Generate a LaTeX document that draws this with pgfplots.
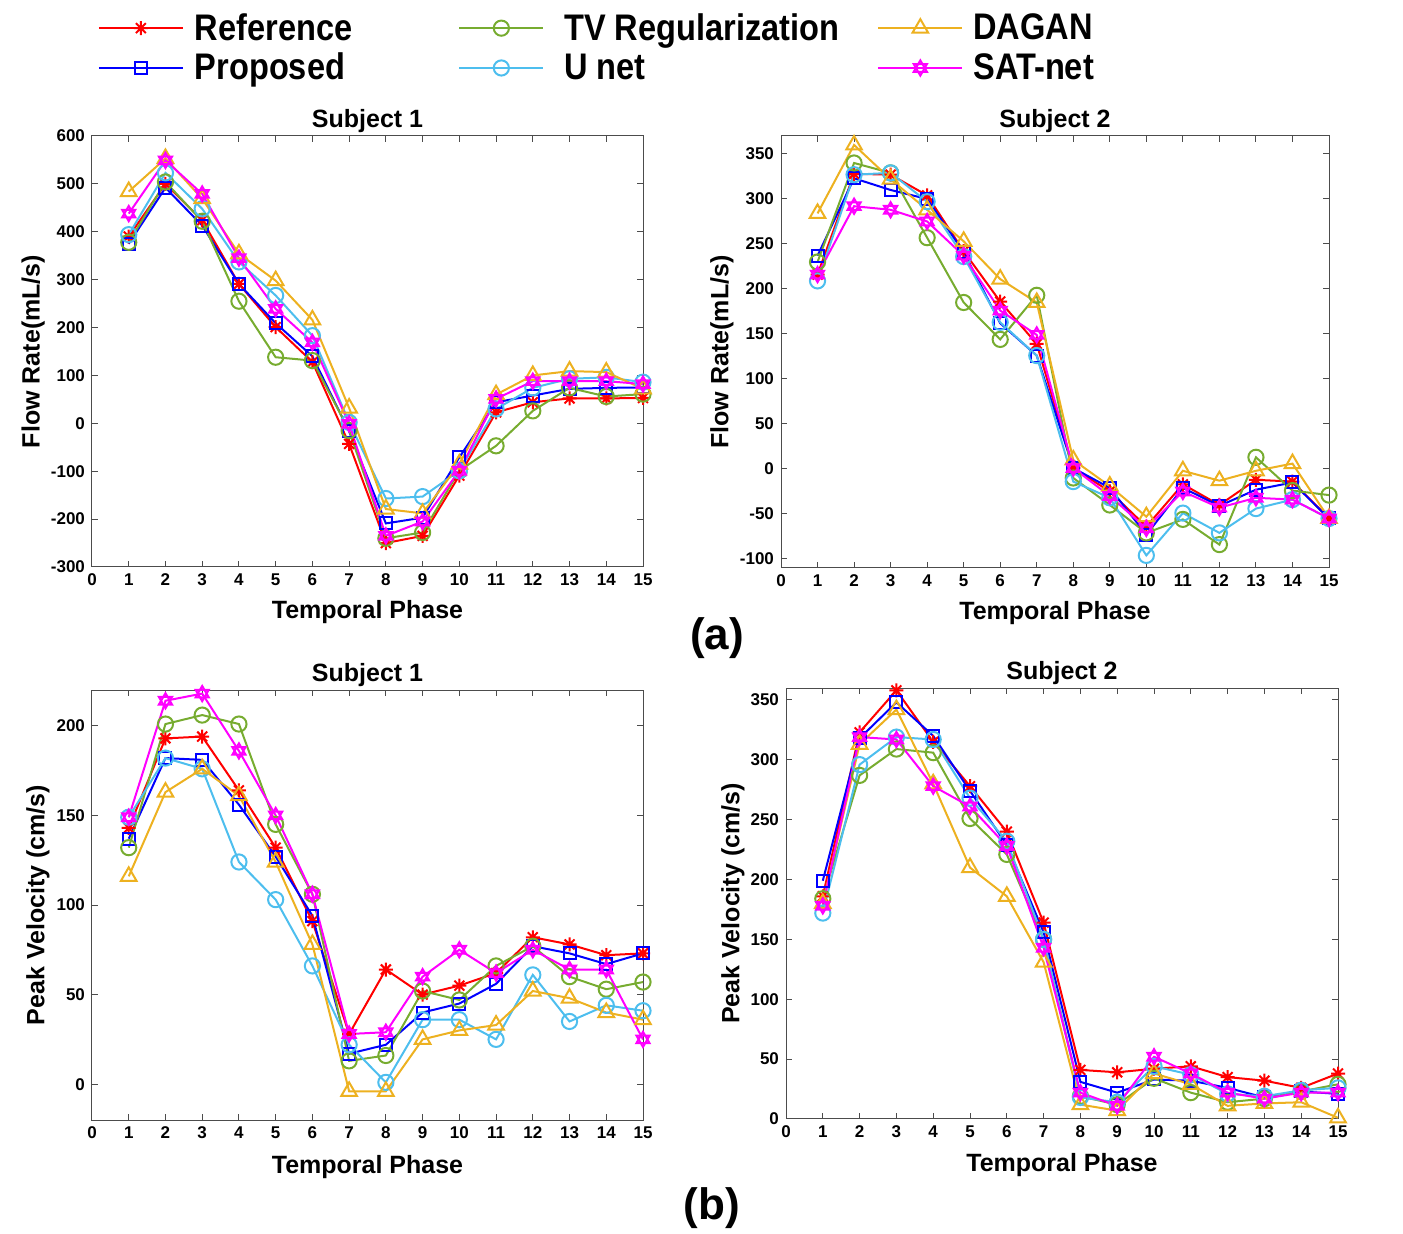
\documentclass[border=0pt]{standalone}
\usepackage{fontspec}
\setmainfont{Liberation Sans}
\newfontfamily\legfont[FakeStretch=0.88]{Liberation Sans}
\usepackage{pgfplots}
\usepackage{pgfplotstable}
\pgfplotsset{compat=1.18}

\definecolor{mred}{rgb}{1,0,0}
\definecolor{mblue}{rgb}{0,0,1}
\definecolor{mgreen}{rgb}{0.466,0.674,0.188}
\definecolor{mcyan}{rgb}{0.301,0.745,0.933}
\definecolor{morange}{rgb}{0.929,0.694,0.125}
\definecolor{mmag}{rgb}{1,0,1}
\definecolor{axgray}{rgb}{0.3,0.3,0.3}

\pgfdeclareplotmark{star8}{%
  \pgfpathmoveto{\pgfqpoint{0pt}{\pgfplotmarksize}}\pgfpathlineto{\pgfqpoint{0pt}{-\pgfplotmarksize}}%
  \pgfpathmoveto{\pgfqpoint{\pgfplotmarksize}{0pt}}\pgfpathlineto{\pgfqpoint{-\pgfplotmarksize}{0pt}}%
  \pgfpathmoveto{\pgfqpointpolar{45}{\pgfplotmarksize}}\pgfpathlineto{\pgfqpointpolar{225}{\pgfplotmarksize}}%
  \pgfpathmoveto{\pgfqpointpolar{135}{\pgfplotmarksize}}\pgfpathlineto{\pgfqpointpolar{315}{\pgfplotmarksize}}%
  \pgfusepathqstroke}
\pgfdeclareplotmark{hexagram}{%
  \pgfpathmoveto{\pgfqpointpolar{90}{\pgfplotmarksize}}%
  \pgfpathlineto{\pgfqpointpolar{210}{\pgfplotmarksize}}%
  \pgfpathlineto{\pgfqpointpolar{330}{\pgfplotmarksize}}%
  \pgfpathclose
  \pgfpathmoveto{\pgfqpointpolar{270}{\pgfplotmarksize}}%
  \pgfpathlineto{\pgfqpointpolar{30}{\pgfplotmarksize}}%
  \pgfpathlineto{\pgfqpointpolar{150}{\pgfplotmarksize}}%
  \pgfpathclose
  \pgfusepathqstroke}

\pgfplotstableread{
x ref prop tv unet dagan sat
1 390 375 378 394 484 438
2 500 492 504 523 553 549
3 424 413 422 448 469 479
4 291 291 255 337 354 345
5 201 209 138 267 298 239
6 128 140 131 183 216 169
7 -43 -17 -15 2 32 -1
8 -250 -209 -240 -157 -179 -235
9 -235 -197 -228 -153 -188 -205
10 -109 -71 -99 -99 -85 -99
11 23 44 -47 30 60 51
12 44 58 26 74 100 88
13 52 72 74 93 109 88
14 52 74 56 96 107 88
15 53 75 61 86 72 82
}\flowA

\pgfplotstableread{
x ref prop tv unet dagan sat
1 216 237 230 209 284 216
2 328 323 340 327 360 292
3 327 310 329 329 322 288
4 304 300 257 297 288 275
5 242 241 185 236 253 237
6 186 162 144 163 211 176
7 139 126 193 126 185 149
8 1 1 -10 -14 10 1
9 -25 -21 -40 -32 -19 -30
10 -64 -73 -71 -96 -53 -66
11 -17 -21 -56 -49 -2 -25
12 -40 -41 -84 -71 -13 -43
13 -12 -23 13 -44 -2 -32
14 -14 -15 -24 -34 6 -34
15 -55 -55 -29 -55 -55 -55
}\flowB

\pgfplotstableread{
x ref prop tv unet dagan sat
1 143 137 132 149 116 149
2 193 182 201 182 163 214
3 194 181 206 176 176 218
4 164 156 201 124 161 186
5 132 127 145 103 124 150
6 91 94 106 66 78 106
7 28 17 13 22 -4 28
8 64 22 16 1 -4 29
9 50 40 52 36 25 60
10 55 45 47 36 30 75
11 62 56 66 25 33 62
12 82 77 77 61 52 75
13 78 73 60 35 48 64
14 72 67 53 44 40 64
15 73 73 57 41 36 25
}\velA

\pgfplotstableread{
x ref prop tv unet dagan sat
1 186 199 184 172 180 178
2 323 318 287 296 313 319
3 358 348 309 319 342 317
4 315 320 306 317 280 278
5 278 274 251 268 210 261
6 240 229 221 232 186 228
7 164 156 150 150 131 143
8 41 31 19 18 12 22
9 39 22 12 14 7 11
10 42 33 34 44 38 52
11 44 32 22 37 29 38
12 35 26 14 21 11 22
13 32 18 17 19 13 17
14 26 23 23 24 14 22
15 38 21 29 26 1 22
}\velB

\pgfplotsset{
  refst/.style={color=mred, line width=1pt, mark=star8, mark size=3.5pt},
  propst/.style={color=mblue, line width=1pt, mark=square, mark size=3pt},
  tvst/.style={color=mgreen, line width=1pt, mark=o, mark size=3.8pt},
  unetst/.style={color=mcyan, line width=1pt, mark=o, mark size=3.8pt},
  daganst/.style={color=morange, line width=1pt, mark=triangle, mark size=4.5pt},
  satst/.style={color=mmag, line width=1pt, mark=hexagram, mark size=3.8pt},
  myaxis/.style={
    scale only axis,
    anchor=north west,
    xmin=0, xmax=15, xtick={0,...,15},
    /pgf/number format/assume math mode=true,
    tick label style={font=\bfseries\fontsize{8.5}{10}\selectfont},
    label style={font=\bfseries\fontsize{12.5}{15}\selectfont},
    title style={font=\bfseries\fontsize{12.5}{15}\selectfont, at={(axis description cs:0.5,1)}, anchor=center, yshift=1.5pt},
    axis line style={axgray, line width=0.5pt},
    tick style={axgray, line width=0.5pt},
    major tick length=3pt,
    xlabel={Temporal Phase},
    every mark/.append style={solid},
  },
}

\begin{document}
\begin{tikzpicture}
\useasboundingbox (0,0) rectangle (701.5pt,-617pt);

% (a) Subject 1
\begin{axis}[myaxis, at={(46pt,-68pt)}, width=275.5pt, height=215.5pt,
  ymin=-300, ymax=600, ytick={-300,-200,...,600},
  title={Subject 1}, ylabel={Flow Rate(mL/s)},
  xlabel style={at={(axis description cs:0.5,-0.104)}, anchor=center},
  ylabel style={at={(axis description cs:-0.107,0.5)}, anchor=center},
  legend columns=3,
  legend style={at={(axis description cs:0.01,1.295)}, anchor=north west, draw=none, fill=none,
    font=\legfont\bfseries\fontsize{18.5}{21}\selectfont, row sep=1pt, inner sep=0pt,
    /tikz/column 1/.append style={column sep=3.5pt},
    /tikz/column 2/.append style={column sep=51pt},
    /tikz/column 3/.append style={column sep=8pt},
    /tikz/column 4/.append style={column sep=17pt},
    /tikz/column 5/.append style={column sep=3pt},
    cells={anchor=west}},
  legend image code/.code={\draw[mark repeat=2,mark phase=2] plot coordinates {(0pt,0pt) (21pt,0pt) (42pt,0pt)};},
]
\addlegendimage{refst}
\addlegendimage{tvst}
\addlegendimage{daganst}
\addlegendimage{propst}
\addlegendimage{unetst}
\addlegendimage{satst}
\addplot[refst] table[x=x,y=ref] {\flowA};
\addplot[propst] table[x=x,y=prop] {\flowA};
\addplot[tvst] table[x=x,y=tv] {\flowA};
\addplot[unetst] table[x=x,y=unet] {\flowA};
\addplot[daganst] table[x=x,y=dagan] {\flowA};
\addplot[satst] table[x=x,y=sat] {\flowA};
\legend{Reference, TV Regularization, DAGAN, Proposed, U net, SAT-net}
\end{axis}

% (a) Subject 2
\begin{axis}[myaxis, at={(390.5pt,-68pt)}, width=274pt, height=216pt,
  ymin=-110, ymax=370, ytick={-100,-50,...,350},
  title={Subject 2}, ylabel={Flow Rate(mL/s)},
  xlabel style={at={(axis description cs:0.5,-0.104)}, anchor=center},
  ylabel style={at={(axis description cs:-0.108,0.5)}, anchor=center},
]
\addplot[refst] table[x=x,y=ref] {\flowB};
\addplot[propst] table[x=x,y=prop] {\flowB};
\addplot[tvst] table[x=x,y=tv] {\flowB};
\addplot[unetst] table[x=x,y=unet] {\flowB};
\addplot[daganst] table[x=x,y=dagan] {\flowB};
\addplot[satst] table[x=x,y=sat] {\flowB};
\end{axis}

% (b) Subject 1
\begin{axis}[myaxis, at={(46pt,-345pt)}, width=275.5pt, height=215pt,
  ymin=-20, ymax=220, ytick={0,50,...,200},
  title={Subject 1}, ylabel={Peak Velocity (cm/s)},
  xlabel style={at={(axis description cs:0.5,-0.109)}, anchor=center},
  ylabel style={at={(axis description cs:-0.098,0.5)}, anchor=center},
]
\addplot[refst] table[x=x,y=ref] {\velA};
\addplot[propst] table[x=x,y=prop] {\velA};
\addplot[tvst] table[x=x,y=tv] {\velA};
\addplot[unetst] table[x=x,y=unet] {\velA};
\addplot[daganst] table[x=x,y=dagan] {\velA};
\addplot[satst] table[x=x,y=sat] {\velA};
\end{axis}

% (b) Subject 2
\begin{axis}[myaxis, at={(393pt,-344pt)}, width=276pt, height=215.5pt,
  ymin=0, ymax=360, ytick={0,50,...,350},
  title={Subject 2}, ylabel={Peak Velocity (cm/s)},
  xlabel style={at={(axis description cs:0.5,-0.107)}, anchor=center},
  ylabel style={at={(axis description cs:-0.096,0.5)}, anchor=center},
]
\addplot[refst] table[x=x,y=ref] {\velB};
\addplot[propst] table[x=x,y=prop] {\velB};
\addplot[tvst] table[x=x,y=tv] {\velB};
\addplot[unetst] table[x=x,y=unet] {\velB};
\addplot[daganst] table[x=x,y=dagan] {\velB};
\addplot[satst] table[x=x,y=sat] {\velB};
\end{axis}

\node[font=\bfseries\fontsize{22}{26}\selectfont] at (358.5pt,-319pt) {(a)};
\node[font=\bfseries\fontsize{22}{26}\selectfont] at (356pt,-604pt) {(b)};
\end{tikzpicture}
\end{document}
